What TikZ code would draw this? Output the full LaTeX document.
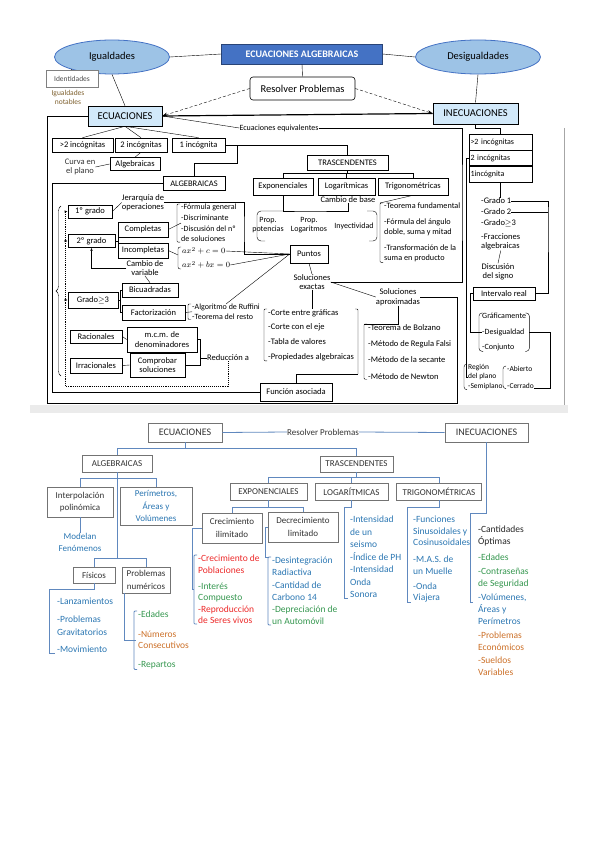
\documentclass[tikz,border=0pt]{standalone}
\usepackage{fontspec}
\setmainfont{Carlito}
\usetikzlibrary{shapes.geometric, arrows.meta, decorations.pathreplacing}

\definecolor{azultitulo}{RGB}{68,114,196}
\definecolor{azulelipse}{RGB}{157,195,230}
\definecolor{celeste}{RGB}{210,233,250}
\definecolor{azullinea}{RGB}{96,136,190}
\definecolor{azultexto}{RGB}{42,118,178}
\definecolor{rojo}{RGB}{236,40,40}
\definecolor{verde}{RGB}{52,150,78}
\definecolor{naranja}{RGB}{204,112,40}
\definecolor{marron}{RGB}{125,95,45}

\newcommand{\corchete}[2][]{\draw[rounded corners = 1pt, #1] ([xshift=-1pt]#2.north west) -| ([xshift=-4pt]#2.south west) -- ([xshift=-1pt]#2.south west);}

\begin{document}
\begin{tikzpicture}[x = 1pt, y = -1pt,
	caja/.style = {draw = black, line width = 0.6pt, fill = white, inner sep = 1pt,
				   align = center, font = \fontsize{8.5}{9.5}\selectfont},
	grande/.style = {font = \fontsize{10.5}{12}\selectfont},
	elipse/.style = {draw = azultitulo, fill = azulelipse, shape = ellipse,
					 line width = 0.8pt, grande},
	texto/.style = {inner sep = 0pt, align = center, font = \fontsize{8.5}{9.5}\selectfont},
	lista/.style = {inner sep = 0pt, align = left, anchor = north west,
					font = \fontsize{8.5}{10}\selectfont},
	punteado/.style = {densely dotted, line width = 0.9pt},
	cajab/.style = {draw = black!55, line width = 0.8pt, fill = white, inner sep = 1pt,
					align = center, text = black!80, font = \fontsize{9}{12.5}\selectfont},
	listab/.style = {inner sep = 0pt, align = left, anchor = north west,
					 font = \fontsize{9.5}{11.5}\selectfont},
	lineab/.style = {draw = azullinea, line width = 0.8pt}
]
	\useasboundingbox (0,0) rectangle (599,848);
	\fill[black!8] (30,405) rectangle (568,413);
	\draw[black!35] (564,128) -- (564,405);

	\draw (302,54) node[draw = azultitulo!60!black, fill = azultitulo, text = white,
					 minimum width = 161, minimum height = 20,
					 font = \bfseries\fontsize{10}{12}\selectfont](titulo) {ECUACIONES ALGEBRAICAS};
	\draw (112,57) node[elipse, minimum width = 115, minimum height = 34](igual) {Igualdades};
	\draw (478,57) node[elipse, minimum width = 125, minimum height = 34](desig) {Desigualdades};
	\draw (302.5,88.5) node[caja, grande, rounded corners = 3pt,
					 minimum width = 105, minimum height = 23](resolver) {Resolver Problemas};
	\draw (125,116) node[caja, grande, fill = celeste,
					 minimum width = 74, minimum height = 20](ecu) {ECUACIONES};
	\draw (475.5,113.5) node[caja, grande, fill = celeste, line width = 0.9pt,
					 minimum width = 85, minimum height = 21](inecu) {INECUACIONES};
	\draw (72,78.5) node[caja, draw = black!50, text = black!70, font = \fontsize{7.5}{9}\selectfont,
					 minimum width = 52, minimum height = 17](ident) {Identidades};
	\draw (68,97) node[texto, text = marron, font = \fontsize{7.5}{9}\selectfont](notables) {Igualdades\\notables};
	\draw (279,128) node[texto, font = \fontsize{8}{9}\selectfont](equiv) {Ecuaciones equivalentes};

	\draw (82.5,145) node[caja, minimum width = 61, minimum height = 14](inc3) {>2 incógnitas};
	\draw (141,145) node[caja, minimum width = 52, minimum height = 14](inc2) {2 incógnitas};
	\draw (198.5,145) node[caja, minimum width = 53, minimum height = 14](inc1) {1 incógnita};
	\draw (135,164) node[caja, minimum width = 50, minimum height = 13](algcurva) {Algebraicas};
	\draw (80,167) node[texto, text = black!80](curva) {Curva en\\el plano};
	\draw (194,183.5) node[caja, minimum width = 62, minimum height = 14](algebr) {ALGEBRAICAS};
	\draw (347.5,162.5) node[caja, minimum width = 81, minimum height = 15](trasc) {TRASCENDENTES};
	\draw (283,186.5) node[caja, minimum width = 60, minimum height = 17](expo) {Exponenciales};
	\draw (346.5,186.5) node[caja, minimum width = 57, minimum height = 17](loga) {Logarítmicas};
	\draw (413,186.5) node[caja, minimum width = 70, minimum height = 17](trigo) {Trigonométricas};
	\draw (348,200) node[texto](cambiobase) {Cambio de base};
	\draw (268,225) node[texto, font = \fontsize{8}{9.5}\selectfont](propot) {Prop.\\potencias};
	\draw (309,225) node[texto, font = \fontsize{8}{9.5}\selectfont](proplog) {Prop.\\Logaritmos};
	\draw (354,226) node[texto, font = \fontsize{8}{9.5}\selectfont](inyect) {Inyectividad};
	\draw (384,203) node[lista, font = \fontsize{8.2}{10}\selectfont](triglist) {-Teorema fundamental\\[6pt]-Fórmula del ángulo\\doble, suma y mitad\\[6pt]-Transformación de la\\suma en producto};

	\draw (309,254) node[caja, minimum width = 38, minimum height = 18](puntos) {Puntos};
	\draw (312,282) node[texto](solexac) {Soluciones\\exactas};
	\draw (398,297) node[texto](solaprox) {Soluciones\\aproximadas};
	\draw (268,309) node[lista, font = \fontsize{8.5}{14.7}\selectfont](exaclist) {-Corte entre gráficas\\-Corte con el eje\\-Tabla de valores\\-Propiedades algebraicas};
	\draw (368,324) node[lista, font = \fontsize{8.5}{16.3}\selectfont](aproxlist) {-Teorema de Bolzano\\-Método de Regula Falsi\\-Método de la secante\\-Método de Newton};
	\draw (296,392) node[caja, line width = 0.8pt, minimum width = 72, minimum height = 18](funcion) {Función asociada};

	\draw (90,211.5) node[caja, minimum width = 44, minimum height = 13](grado1) {1º grado};
	\draw (91.5,241) node[caja, minimum width = 47, minimum height = 13](grado2) {2º grado};
	\draw (143,202.5) node[texto](jerarq) {Jerarquía de\\operaciones};
	\draw (143,229.5) node[caja, minimum width = 50, minimum height = 15](compl) {Completas};
	\draw (143,250.5) node[caja, minimum width = 50, minimum height = 15](incompl) {Incompletas};
	\draw (145,268) node[texto](cambiovar) {Cambio de\\variable};
	\draw (181,204) node[lista, font = \fontsize{8}{10.7}\selectfont](formlist) {-Fórmula general\\-Discriminante\\-Discusión del nº\\de soluciones};
	\draw (182,251) node[texto, anchor = west](ec1) {$ax^2+c=0$};
	\draw (182,265) node[texto, anchor = west](ec2) {$ax^2+bx=0$};
	\draw (93,300) node[caja, minimum width = 50, minimum height = 16](grado3) {Grado$\geq$3};
	\draw (150,290) node[caja, minimum width = 56, minimum height = 14](bicuad) {Bicuadradas};
	\draw (153.5,312.5) node[caja, minimum width = 63, minimum height = 15](factor) {Factorización};
	\draw (192,304) node[lista, font = \fontsize{8}{9.5}\selectfont](ruffini) {-Algoritmo de Ruffini\\-Teorema del resto};
	\draw (96,336.5) node[caja, minimum width = 52, minimum height = 13](racion) {Racionales};
	\draw (162,339.5) node[caja, minimum width = 70, minimum height = 25](mcm) {m.c.m. de\\denominadores};
	\draw (96,365.5) node[caja, minimum width = 52, minimum height = 15](irracion) {Irracionales};
	\draw (157.5,365) node[caja, minimum width = 55, minimum height = 24](comprob) {Comprobar\\soluciones};
	\draw (228,358) node[texto](reduccion) {Reducción a};

	\draw (500.5,142.5) node[caja, align = left, text width = 60, inner sep = 1.5pt,
					 font = \fontsize{8}{9}\selectfont, minimum height = 15.5](i3) {>2 incógnitas};
	\draw (500.5,158) node[caja, align = left, text width = 60, inner sep = 1.5pt,
					 font = \fontsize{8}{9}\selectfont, minimum height = 15.5](i2) {2 incógnitas};
	\draw (500.5,174) node[caja, align = left, text width = 60, inner sep = 1.5pt, line width = 0.9pt,
					 font = \fontsize{8}{9}\selectfont, minimum height = 16](i1) {1incógnita};
	\draw (481,201) node[texto, anchor = west](g1) {-Grado 1};
	\draw (481,212) node[texto, anchor = west](g2) {-Grado 2};
	\draw (481,223) node[texto, anchor = west](g3) {-Grado$\geq$3};
	\draw (481,242) node[texto, anchor = west, align = left](frac) {-Fracciones\\algebraicas};
	\draw (498,272) node[texto](discus) {Discusión\\del signo};
	\draw (504,293.5) node[caja, minimum width = 62, minimum height = 13](interv) {Intervalo real};
	\draw (482,313) node[lista, font = \fontsize{8}{15.5}\selectfont](graf) {Gráficamente\\-Desigualdad\\-Conjunto};
	\draw (468,364) node[lista, font = \fontsize{7.5}{9.5}\selectfont](region) {Región\\del plano\\-Semiplano};
	\draw (507,366) node[lista, font = \fontsize{7.5}{17}\selectfont](abierto) {-Abierto\\-Cerrado};

	\draw (igual.east) -- (titulo.west);
	\draw (titulo.east) -- (desig.west);
	\draw (titulo.south) -- (resolver.north);
	\draw[densely dashed, -{Stealth[length = 5pt]}] (resolver.west) -- (ecu.east);
	\draw[densely dashed, -{Stealth[length = 5pt]}] (resolver.east) -- (inecu.west);
	\draw (igual.south) -- (ecu.north);
	\draw (igual.south west) -- (ident.north);
	\draw (desig.south) -- (inecu.north);
	\draw[line width = 1.2pt] (ecu.east) -- (inecu.west);
	\draw (equiv.west) -- (ecu.east);
	\coordinate (esq) at (462,200);
	\draw (equiv.east) -| (esq) |- (solexac.east);

	\draw (ecu.south) -- (inc3.north);
	\draw (ecu.south) -- (inc2.north);
	\draw (ecu.south) -- (inc1.north);
	\draw (inc2.south) -- (algcurva.north);
	\draw (algcurva.west) -- (curva.east);
	\draw (inc1.east) -| (trasc.north);
	\coordinate (bif) at (237,145);
	\draw (bif) -- ++(0,18) -| (algebr.north);
	\draw (trasc.south) -- ++(0,3) -| (expo.north);
	\draw (trasc.south) -- ++(0,3) -| (loga.north);
	\draw (trasc.south) -- ++(0,3) -| (trigo.north);

	\coordinate (gsup) at (305,211);
	\draw (expo.south) |- (gsup) -| (cambiobase.south);
	\draw[rounded corners = 4pt] (283,211) -- (257,211) -- (257,241) -- (265,241);
	\draw[rounded corners = 4pt] (367,211) -- (377,211) -- (377,241) -- (369,241);
	\draw (trigo.south) -- ([xshift=-4pt]triglist.north west);
	\corchete{triglist}

	\coordinate (formder) at (244,230);
	\draw (jerarq.east) -| (formder) |- (puntos.west);
	\draw (ec1.east) -- (puntos.west);
	\draw (ec2.east) -- (puntos.west);
	\draw (puntos.west) -- (ruffini.north);
	\draw (puntos.south) -- (solexac.north);
	\draw (solexac.south) -- (solexac.south |- exaclist.north);
	\draw (solexac.east) -- (solaprox.west);
	\corchete{exaclist}
	\coordinate (exacinf) at (358,374);
	\draw[rounded corners = 1pt] ([xshift=1pt]exaclist.north east) -| (exacinf);
	\draw (funcion.north) |- (exacinf);
	\draw (solaprox.south) |- ([xshift=-4pt]aproxlist.north west);
	\corchete{aproxlist}

	\coordinate (c1) at (457,403);
	\coordinate (c2) at (47,403);
	\draw (solaprox.east) -| (c1) -- (c2) |- (ecu.west);
	\coordinate (c3) at (52,392);
	\draw (algebr.west) -| (c3) -- (funcion.west);

	\draw (grado1.east) -- (jerarq.west);
	\draw (grado2.east) -- ++(3,0) coordinate (f2) |- (compl.west);
	\draw (f2) |- (incompl.west);
	\draw (compl.east) -- (formlist.west);
	\corchete{formlist}
	\draw[rounded corners = 2pt] ([xshift=-1pt]ec1.north west) -| ([xshift=-4pt]ec2.south west) -- ([xshift=-1pt]ec2.south west);
	\draw (incompl.east) -- ([xshift=-4pt]ec1.south west);
	\draw[-{Latex[length = 3pt]}] (cambiovar.west) -| (grado2.south);
	\draw (bicuad.north) -- (cambiovar.south);
	\draw (grado3.east) -- ++(2,0) coordinate (f3) |- (bicuad.west);
	\draw (f3) |- (factor.west);
	\draw (factor.east) -- (ruffini.west);
	\corchete{ruffini}
	\draw (racion.east) -- (mcm.west);
	\draw (irracion.east) -- (comprob.west);
	\coordinate (red1) at (200,358);
	\draw (mcm.east) -| (red1);
	\draw (comprob.east) -| (red1) -- (reduccion.west);

	\draw[decorate, decoration = {brace, amplitude = 5pt}] (61,376) -- (61,206);
	\coordinate (pt1) at (65,386);
	\draw[punteado] (reduccion.south) |- (pt1);
	\draw[punteado, -{Latex[length = 3pt]}] (pt1) |- (grado1.west);
	\draw[-{Latex[length = 3pt]}] (grado2.west -| pt1) -- (grado2.west);
	\draw[-{Latex[length = 3pt]}] (grado3.west -| pt1) -- (grado3.west);

	\draw (inecu.south) -- ++(0,4) -| (i3.north);
	\draw (i2.west) -- ++(-3,0) |- (region.west);
	\draw (i1.south) -- (i1.south |- g1.north);
	\coordinate (gder) at (548,212);
	\draw[line width = 1pt] (g1.east) -| (gder) |- (interv.east);
	\draw[line width = 1pt] (g2.east) -- (gder);
	\draw (frac.south) -- (discus.north);
	\draw (interv.west) -- ++(-3,0) |- (graf.west);
	\draw[rounded corners = 3pt] ([xshift=1pt]graf.north west) -- ([xshift=-3pt]graf.north west) -- ([xshift=-3pt]graf.south west) -- ([xshift=1pt]graf.south west);
	\draw[rounded corners = 3pt] ([xshift=-1pt]graf.north east) -- ([xshift=3pt]graf.north east) -- ([xshift=3pt]graf.south east) -- ([xshift=-1pt]graf.south east);
	\draw ([xshift=3pt]graf.east) -- ++(21,0) |- (abierto.south east);
	\corchete[rounded corners = 3pt]{region}
	\corchete[rounded corners = 3pt]{abierto}

	\draw (185,432.5) node[cajab, font = \fontsize{10}{12}\selectfont,
					 minimum width = 74, minimum height = 19](becu) {ECUACIONES};
	\draw (323,432) node[texto, text = black!80, font = \fontsize{9}{11}\selectfont](bres) {Resolver Problemas};
	\draw (486.5,432.5) node[cajab, font = \fontsize{10}{12}\selectfont,
					 minimum width = 83, minimum height = 19](binecu) {INECUACIONES};
	\draw (117,463.5) node[cajab, minimum width = 70, minimum height = 17](balg) {ALGEBRAICAS};
	\draw (356.5,464) node[cajab, minimum width = 73, minimum height = 16](btrasc) {TRASCENDENTES};
	\draw (268.5,491.5) node[cajab, minimum width = 77, minimum height = 17](bexpo) {EXPONENCIALES};
	\draw (351.5,491.5) node[cajab, minimum width = 73, minimum height = 17](blog) {LOGARÍTMICAS};
	\draw (439,491.5) node[cajab, minimum width = 85, minimum height = 17](btrig) {TRIGONOMÉTRICAS};
	\draw (80,502) node[cajab, minimum width = 66, minimum height = 30](binterp) {Interpolación\\polinómica};
	\draw (156,506) node[cajab, text = azultexto, minimum width = 72, minimum height = 38](bperim) {Perímetros,\\Áreas y\\Volúmenes};
	\draw (80,542.5) node[texto, text = azultexto, font = \fontsize{9}{11.5}\selectfont](bmodelan) {Modelan\\Fenómenos};
	\draw (94,575) node[cajab, minimum width = 42, minimum height = 16](bfis) {Físicos};
	\draw (146,580) node[cajab, minimum width = 48, minimum height = 26](bnum) {Problemas\\numéricos};
	\draw (232,528) node[cajab, minimum width = 60, minimum height = 30](bcrec) {Crecimiento\\ilimitado};
	\draw (303,527) node[cajab, minimum width = 70, minimum height = 30](bdecr) {Decrecimiento\\limitado};

	\draw (57,598) node[listab, text = azultexto, font = \fontsize{9.5}{13}\selectfont](fislist) {-Lanzamientos\\[5pt]-Problemas\\Gravitatorios\\[4pt]-Movimiento};
	\draw (138,611) node[listab](numlist) {\textcolor{verde}{-Edades}\\[8pt]\textcolor{naranja}{-Números}\\\textcolor{naranja}{Consecutivos}\\[7.5pt]\textcolor{verde}{-Repartos}};
	\draw (198,555) node[listab](creclist) {\textcolor{rojo}{-Crecimiento de}\\\textcolor{rojo}{Poblaciones}\\[4.5pt]\textcolor{verde}{-Interés}\\\textcolor{verde}{Compuesto}\\\textcolor{rojo}{-Reproducción}\\\textcolor{rojo}{de Seres vivos}};
	\draw (272,557) node[listab, font = \fontsize{9.5}{12}\selectfont](decrlist) {\textcolor{azultexto}{-Desintegración}\\\textcolor{azultexto}{Radiactiva}\\[1pt]\textcolor{azultexto}{-Cantidad de}\\\textcolor{azultexto}{Carbono 14}\\\textcolor{verde}{-Depreciación de}\\\textcolor{verde}{un Automóvil}};
	\draw (350,516) node[listab, text = azultexto, font = \fontsize{9.5}{12.5}\selectfont](loglist) {-Intensidad\\de un\\seismo\\-Índice de PH\\-Intensidad\\Onda\\Sonora};
	\draw (413,516) node[listab, text = azultexto](triglist2) {-Funciones\\Sinusoidales y\\Cosinusoidales\\[5.5pt]-M.A.S. de\\un Muelle\\[3.5pt]-Onda\\Viajera};
	\draw (478,526) node[listab, text = black!85, font = \fontsize{9.5}{12}\selectfont](ineqlist) {-Cantidades\\Óptimas\\[4pt]\textcolor{verde}{-Edades}\\[2pt]\textcolor{verde}{-Contraseñas}\\\textcolor{verde}{de Seguridad}\\[2pt]\textcolor{azultexto}{-Volúmenes,}\\\textcolor{azultexto}{Áreas y}\\\textcolor{azultexto}{Perímetros}\\[2pt]\textcolor{naranja}{-Problemas}\\\textcolor{naranja}{Económicos}\\[1pt]\textcolor{naranja}{-Sueldos}\\\textcolor{naranja}{Variables}};

	\draw[lineab] (becu.east) -- (bres.west);
	\draw[lineab] (bres.east) -- (binecu.west);
	\draw[lineab] (becu.south) -- ++(0,6) coordinate (b1) -| (balg.north);
	\draw[lineab] (b1) -| (btrasc.north);
	\draw[lineab] (balg.south) -- ++(0,6) coordinate (b2) -| (binterp.north);
	\draw[lineab] (b2) -| (bperim.north);
	\draw[lineab] (b2) -- ++(0,80) coordinate (b3) -| (bfis.north);
	\draw[lineab] (b3) -| (bnum.north);
	\draw[lineab] (binterp.south) -- (bmodelan.north);
	\draw[lineab] (btrasc.south) -- ++(0,5) coordinate (b4) -| (bexpo.north);
	\draw[lineab] (b4) -| (blog.north);
	\draw[lineab] (b4) -| (btrig.north);
	\draw[lineab] (bexpo.south) -- ++(0,7) coordinate (b5) -| (bcrec.north);
	\draw[lineab] (b5) -| (bdecr.north);

	\draw[lineab] (bfis.south) -- ++(0,6) -| ([xshift=-8pt]fislist.south west) -- ([xshift=-2pt]fislist.south west);
	\draw[lineab] ([xshift=3pt]bnum.south west) |- ([xshift=-2pt]numlist.west);
	\corchete[lineab]{numlist}
	\draw[lineab] (bcrec.west) -- ++(-9,0) |- ([xshift=-4pt]creclist.west);
	\corchete[lineab]{creclist}
	\draw[lineab] (bdecr.west) -- ++(-2,0) |- ([xshift=-4pt]decrlist.north west);
	\corchete[lineab]{decrlist}
	\draw[lineab] (blog.south) -- ++(0,7) -| ([xshift=-6pt]loglist.south west) -- ([xshift=-2pt]loglist.south west);
	\draw[lineab] (btrig.south) -- ++(0,7) -| ([xshift=-6pt]triglist2.south west) -- ([xshift=-2pt]triglist2.south west);
	\coordinate (ineqinf) at (470,602);
	\draw[lineab] (binecu.south) -- ++(0,71) -| (ineqinf) -- ++(3,0);
\end{tikzpicture}
\end{document}
